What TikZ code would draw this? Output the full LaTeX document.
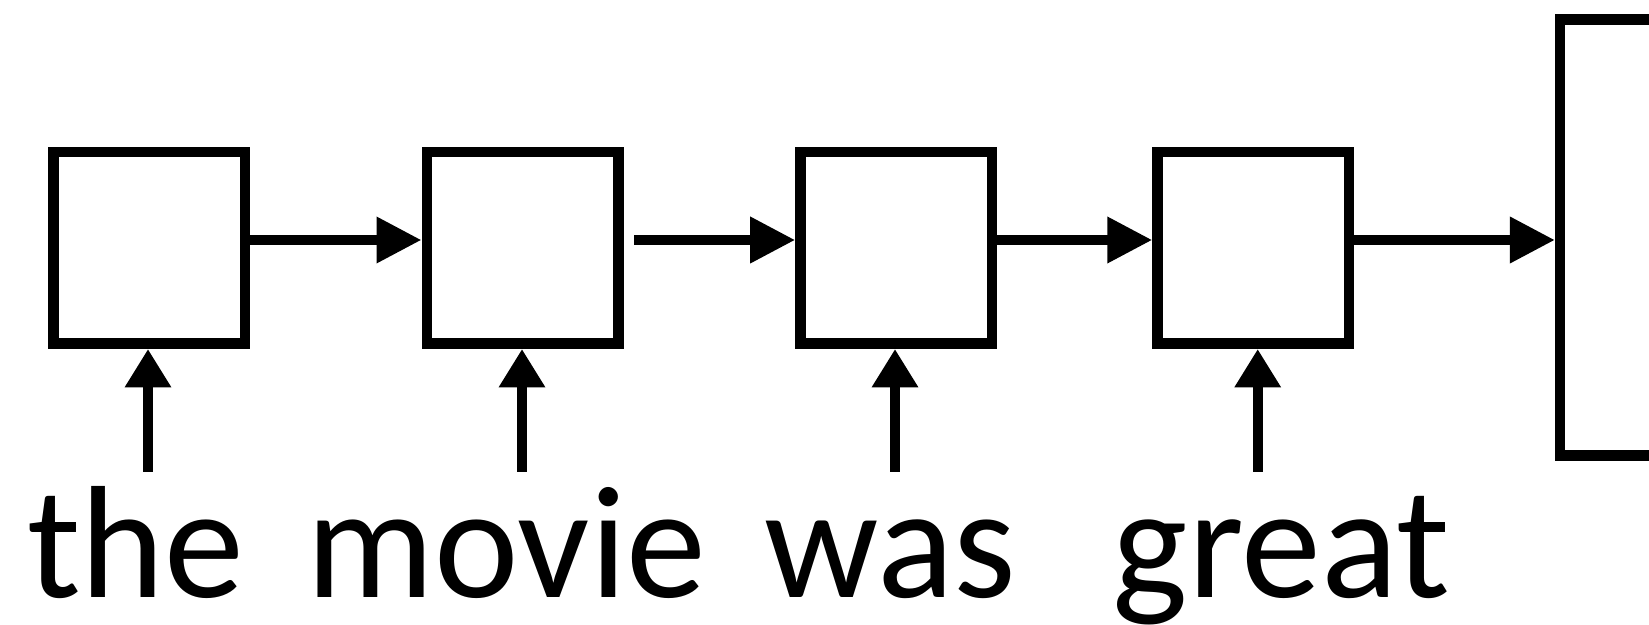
\documentclass[tikz,border=0pt]{standalone}
\usepackage{fontspec}
\setmainfont{Carlito}
\usetikzlibrary{arrows.meta}
\begin{document}
\begin{tikzpicture}[x=0.5pt,y=-0.5pt,
  cell/.style={draw, line width=5.25pt, inner sep=0pt,
    minimum width=95.75pt, minimum height=95.75pt},
  harr/.style={line width=5pt, -{Triangle[length=22.5pt,width=22pt]}},
  varr/.style={line width=5pt, -{Triangle[length=19.2pt,width=22pt]}},
  word/.style={anchor=base, inner sep=3pt, font=\fontsize{80}{80}\selectfont}]
  \clip (0,0) rectangle (1649,625);
  \useasboundingbox (0,0) rectangle (1649,625);

  % recurrent cells
  \node[cell] (c1) at (149,248) {};
  \node[cell] (c2) at (522.5,248) {};
  \node[cell] (c3) at (896.2,248) {};
  \node[cell] (c4) at (1253.3,248) {};
  % output vector
  \node[cell, minimum width=46.85pt, minimum height=217.9pt] (out) at (1607,237.5) {};

  % level of the hidden-state arrows
  \coordinate (h) at (0,240);

  % hidden-state arrows
  \draw[harr] (c1.east |- h) -- (c2.west |- h);
  \draw[harr, shorten <=5.35pt] (c2.east |- h) -- (c3.west |- h);
  \draw[harr, shorten <=-2.7pt] (c3.east |- h) -- (c4.west |- h);
  \draw[harr] (c4.east |- h) -- (out.west |- h);

  % input arrows
  \coordinate (i1) at (148,472);
  \coordinate (i2) at (522,472);
  \coordinate (i3) at (895,472);
  \coordinate (i4) at (1257.7,472);
  \draw[varr] (i1) -- (i1 |- c1.south);
  \draw[varr] (i2) -- (i2 |- c2.south);
  \draw[varr] (i3) -- (i3 |- c3.south);
  \draw[varr] (i4) -- (i4 |- c4.south);

  % input words
  \node[word] (w1) at (136,597.5) {the};
  \node[word] (w2) at (506.5,597.5) {movie};
  \node[word] (w3) at (890.5,597.5) {was};
  \node[word] (w4) at (1281.5,597.5) {great};
\end{tikzpicture}
\end{document}
